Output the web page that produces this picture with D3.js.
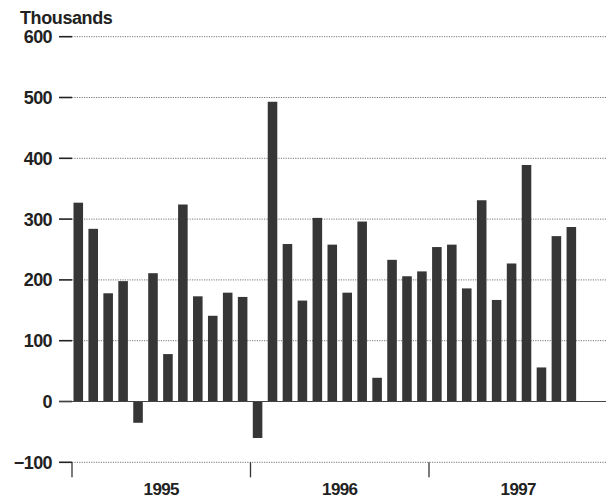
<!DOCTYPE html>
<html>
<head>
<meta charset="utf-8">
<script src="https://cdn.jsdelivr.net/npm/d3@7"></script>
<style>
  html, body { margin: 0; padding: 0; background: #fff; }
  svg { display: block; }
  text { font-family: "Liberation Sans", Arial, sans-serif; fill: #222; }
</style>
</head>
<body>
<svg id="chart" width="606" height="501"></svg>
<script>
// Monthly values (thousands), Jan 1995 – Oct 1997
const years = ["1995", "1996", "1997"];
const months = ["Jan","Feb","Mar","Apr","May","Jun","Jul","Aug","Sep","Oct","Nov","Dec"];
const values1995 = [327, 284, 178, 198, -35, 211, 78, 324, 173, 141, 179, 172];
const values1996 = [-60, 493, 259, 166, 302, 258, 179, 296, 39, 233, 206, 214];
const values1997 = [254, 258, 186, 331, 167, 227, 389, 56, 272, 287];
const yTicks = [-100, 0, 100, 200, 300, 400, 500, 600];
const yLabels = ["\u2212100", "0", "100", "200", "300", "400", "500", "600"];
const unitLabel = "Thousands";

const allMonths = [];
years.forEach(y => months.forEach(m => allMonths.push(m + " " + y)));
const seriesValues = [...values1995, ...values1996, ...values1997];
const data = seriesValues.map((v, i) => ({ key: allMonths[i], value: v }));

const svg = d3.select("#chart");
const x0 = 72, x1 = 607.5;
const x = d3.scaleBand().domain(allMonths).range([x0, x1]).paddingInner(0.36).paddingOuter(0.1);
const y = d3.scaleLinear().domain([-100, 600]).range([462.3, 36.7]);

// gridlines
svg.append("g").selectAll("line").data(yTicks.filter(t => t !== 0))
  .join("line")
  .attr("x1", x0).attr("x2", 606)
  .attr("y1", d => y(d)).attr("y2", d => y(d))
  .attr("stroke", "#777").attr("stroke-width", 1)
  .attr("stroke-dasharray", "1.2,1.2");

// tick marks on left
svg.append("g").selectAll("line").data(yTicks)
  .join("line")
  .attr("x1", 59).attr("x2", 72)
  .attr("y1", d => y(d)).attr("y2", d => y(d))
  .attr("stroke", "#222").attr("stroke-width", 1.6);

// tick labels
svg.append("g").selectAll("text").data(yTicks)
  .join("text")
  .attr("x", 52).attr("y", d => y(d))
  .attr("dy", "0.36em")
  .attr("text-anchor", "end")
  .attr("font-size", 18)
  .attr("font-weight", "bold")
  .attr("letter-spacing", "-0.6")
  .text((d, i) => yLabels[i]);

// unit label
svg.append("text").attr("x", 20).attr("y", 24)
  .attr("font-size", 18).attr("font-weight", "bold").attr("letter-spacing", "-0.4")
  .text(unitLabel);

// bars
svg.append("g").selectAll("rect").data(data)
  .join("rect")
  .attr("x", d => x(d.key))
  .attr("width", x.bandwidth())
  .attr("y", d => y(Math.max(0, d.value)))
  .attr("height", d => Math.abs(y(d.value) - y(0)))
  .attr("fill", "#363636");

// zero line
svg.append("line")
  .attr("x1", 59).attr("x2", 606)
  .attr("y1", y(0)).attr("y2", y(0))
  .attr("stroke", "#444").attr("stroke-width", 1.2);

// year ticks & labels
const step = (x1 - x0) / allMonths.length;
const yearStart = i => x0 + i * 12 * step;
svg.append("g").selectAll("line").data(years)
  .join("line")
  .attr("x1", (d, i) => yearStart(i)).attr("x2", (d, i) => yearStart(i))
  .attr("y1", y(-100)).attr("y2", y(-100) + 15)
  .attr("stroke", "#333").attr("stroke-width", 1.3);

svg.append("g").selectAll("text").data(years)
  .join("text")
  .attr("x", (d, i) => yearStart(i) + 6 * step)
  .attr("y", 495)
  .attr("text-anchor", "middle")
  .attr("font-size", 17)
  .attr("font-weight", "bold")
  .attr("letter-spacing", "-0.6")
  .text(d => d);
</script>
</body>
</html>
